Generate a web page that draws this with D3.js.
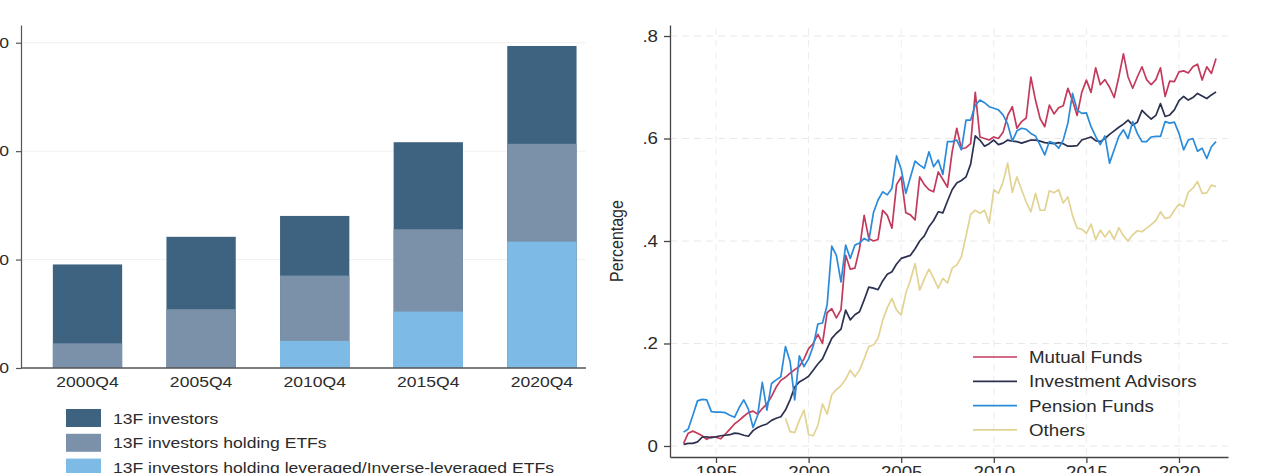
<!DOCTYPE html>
<html>
<head>
<meta charset="utf-8">
<script src="https://cdn.jsdelivr.net/npm/d3@7"></script>
<style>
  body { margin: 0; background: #fff; }
  svg { display: block; }
  text { font-family: "Liberation Sans", Arial, Helvetica, sans-serif; fill: #2b2b2b; }
</style>
</head>
<body>
<svg id="chart" width="1263" height="473"></svg>
<script>
// ---- Left panel: number of 13F investors (nested groups) ----
const barCategories = ["2000Q4", "2005Q4", "2010Q4", "2015Q4", "2020Q4"];
const investors13F = [1910, 2420, 2805, 4165, 5940];
const holdingETFs = [455, 1085, 1705, 2560, 4135];
const holdingLevETFs = [0, 0, 500, 1040, 2330];
const barSeriesNames = [
  "13F investors",
  "13F investors holding ETFs",
  "13F investors holding leveraged/Inverse-leveraged ETFs"
];
const barTicks = [0, 2000, 4000, 6000];

// ---- Right panel: share by institution type, quarterly ----
const lineStart = 1993.25;      // first quarter of the three main series
const othersStart = 1998.75;    // "Others" begins later
const quarterStep = 0.25;
const yearTicks = [1995, 2000, 2005, 2010, 2015, 2020];
const shareTicks = [0, 0.2, 0.4, 0.6, 0.8];
const lineSeriesNames = ["Mutual Funds", "Investment Advisors", "Pension Funds", "Others"];

const mutualFunds = [
  0.005,0.025,0.029,0.025,0.020,0.013,0.018,0.017,0.014,0.023,
  0.033,0.043,0.050,0.058,0.065,0.068,0.062,0.073,0.082,0.097,
  0.115,0.128,0.134,0.142,0.149,0.155,0.170,0.190,0.200,0.218,
  0.200,0.260,0.268,0.250,0.266,0.372,0.345,0.347,0.385,0.450,
  0.405,0.400,0.403,0.460,0.450,0.425,0.510,0.525,0.455,0.451,
  0.441,0.525,0.510,0.500,0.496,0.535,0.520,0.505,0.574,0.620,
  0.580,0.582,0.590,0.690,0.603,0.600,0.597,0.603,0.600,0.612,
  0.645,0.662,0.620,0.633,0.640,0.720,0.675,0.639,0.623,0.665,
  0.648,0.660,0.664,0.698,0.674,0.645,0.690,0.714,0.690,0.738,
  0.705,0.715,0.700,0.680,0.720,0.765,0.720,0.698,0.720,0.740,
  0.715,0.705,0.715,0.738,0.682,0.712,0.711,0.730,0.732,0.728,
  0.740,0.745,0.714,0.740,0.727,0.756
];
const investmentAdvisors = [
  0.003,0.005,0.005,0.008,0.017,0.018,0.016,0.018,0.020,0.021,
  0.022,0.025,0.024,0.021,0.019,0.030,0.036,0.040,0.043,0.050,
  0.054,0.057,0.070,0.090,0.115,0.125,0.130,0.136,0.148,0.160,
  0.170,0.190,0.210,0.220,0.228,0.265,0.246,0.256,0.262,0.285,
  0.310,0.308,0.305,0.322,0.335,0.340,0.355,0.366,0.369,0.372,
  0.385,0.400,0.410,0.428,0.440,0.457,0.455,0.478,0.500,0.513,
  0.518,0.525,0.550,0.605,0.597,0.585,0.590,0.597,0.588,0.591,
  0.597,0.595,0.594,0.591,0.594,0.597,0.597,0.595,0.592,0.591,
  0.590,0.592,0.590,0.585,0.585,0.586,0.597,0.600,0.603,0.596,
  0.594,0.600,0.608,0.615,0.622,0.628,0.636,0.626,0.632,0.655,
  0.646,0.638,0.645,0.668,0.643,0.646,0.656,0.674,0.682,0.675,
  0.680,0.688,0.683,0.678,0.685,0.691
];
const pensionFunds = [
  0.027,0.033,0.060,0.088,0.091,0.090,0.067,0.066,0.066,0.065,
  0.060,0.056,0.075,0.090,0.072,0.036,0.060,0.124,0.070,0.122,
  0.129,0.135,0.194,0.165,0.090,0.176,0.155,0.170,0.195,0.238,
  0.240,0.275,0.390,0.372,0.320,0.392,0.366,0.392,0.396,0.405,
  0.400,0.455,0.480,0.496,0.490,0.503,0.566,0.540,0.493,0.525,
  0.556,0.548,0.542,0.574,0.545,0.558,0.530,0.594,0.594,0.597,
  0.578,0.636,0.636,0.665,0.675,0.670,0.662,0.659,0.656,0.646,
  0.628,0.595,0.615,0.620,0.618,0.610,0.605,0.587,0.568,0.594,
  0.591,0.581,0.597,0.630,0.688,0.656,0.649,0.650,0.623,0.604,
  0.588,0.605,0.552,0.578,0.604,0.617,0.600,0.633,0.610,0.594,
  0.594,0.603,0.604,0.604,0.633,0.630,0.632,0.610,0.578,0.597,
  0.600,0.575,0.581,0.561,0.584,0.594
];
const others = [
  0.054,0.028,0.026,0.050,0.070,0.022,0.020,0.040,0.082,0.062,
  0.100,0.110,0.118,0.130,0.148,0.135,0.148,0.170,0.194,0.197,
  0.210,0.245,0.270,0.288,0.265,0.256,0.298,0.324,0.356,0.304,
  0.326,0.345,0.327,0.308,0.327,0.318,0.347,0.353,0.369,0.410,
  0.452,0.460,0.454,0.460,0.435,0.500,0.493,0.515,0.552,0.495,
  0.525,0.500,0.476,0.457,0.493,0.460,0.460,0.498,0.494,0.500,
  0.474,0.486,0.450,0.425,0.423,0.415,0.433,0.403,0.421,0.408,
  0.420,0.403,0.426,0.410,0.400,0.412,0.420,0.418,0.425,0.432,
  0.440,0.457,0.444,0.446,0.460,0.472,0.467,0.495,0.503,0.516,
  0.493,0.494,0.509,0.506
];

const barColors = ["#3d6381", "#7b91a9", "#7dbbe6"];
const lineColors = ["#c33a5c", "#2c3150", "#2b8bdb", "#e2d393"];

// The rendered text is slightly wider than the font's natural proportions.
const TEXT_STRETCH = 1.17;
function stretchText(sel) {
  sel.each(function () {
    const w = this.getComputedTextLength();
    this.setAttribute("textLength", (w * TEXT_STRETCH).toFixed(2));
    this.setAttribute("lengthAdjust", "spacingAndGlyphs");
  });
}

const svg = d3.select("#chart");

// ================= Left panel =================
const left = svg.append("g");
const barX = d3.scaleBand()
  .domain(barCategories)
  .range([30.7, 598.7])
  .paddingInner(0.39)
  .paddingOuter(0.195);
const barY = d3.scaleLinear().domain([0, 6327]).range([368, 25]);

// horizontal grid
left.append("g").selectAll("line")
  .data(barTicks.filter(d => d > 0))
  .join("line")
  .attr("x1", 21).attr("x2", 586)
  .attr("y1", d => barY(d)).attr("y2", d => barY(d))
  .attr("stroke", "#f0f0f0").attr("stroke-width", 1);

// bars: each group is a subset of the previous one, so draw from zero, largest first
const barGroups = [investors13F, holdingETFs, holdingLevETFs];
barGroups.forEach((vals, k) => {
  left.append("g").selectAll("rect")
    .data(vals.map((v, i) => ({ cat: barCategories[i], v })).filter(d => d.v > 0))
    .join("rect")
    .attr("x", d => barX(d.cat))
    .attr("width", barX.bandwidth())
    .attr("y", d => barY(d.v))
    .attr("height", d => barY(0) - barY(d.v))
    .attr("fill", barColors[k]);
});

// y axis
const barYAxis = left.append("g")
  .attr("transform", "translate(21,0)")
  .call(d3.axisLeft(barY).tickValues(barTicks).tickSize(5).tickSizeOuter(0).tickPadding(7)
    .tickFormat(d3.format("d")));
barYAxis.select(".domain").attr("stroke", "#555").attr("stroke-width", 1.2);
barYAxis.selectAll(".tick line").attr("stroke", "#555").attr("stroke-width", 1.2);
barYAxis.selectAll("text").attr("font-size", 15).attr("fill", "#2b2b2b").call(stretchText);

// x axis baseline and labels
left.append("line")
  .attr("x1", 21).attr("x2", 586)
  .attr("y1", barY(0)).attr("y2", barY(0))
  .attr("stroke", "#555").attr("stroke-width", 1.4);
const barXAxis = left.append("g")
  .attr("transform", `translate(0,${barY(0)})`)
  .call(d3.axisBottom(barX).tickSize(0).tickPadding(8.7));
barXAxis.select(".domain").remove();
barXAxis.selectAll("text").attr("font-size", 15).attr("fill", "#2b2b2b").call(stretchText);

// legend
const barLegend = left.append("g");
barSeriesNames.forEach((name, k) => {
  const cy = 418 + k * 24.8;
  barLegend.append("rect")
    .attr("x", 66).attr("y", cy - 9).attr("width", 35).attr("height", 18)
    .attr("fill", barColors[k]);
  barLegend.append("text")
    .attr("x", 113).attr("y", cy + 5.5)
    .attr("font-size", 15)
    .text(name)
    .call(stretchText);
});

// ================= Right panel =================
const right = svg.append("g");
const lineX = d3.scaleLinear().domain([1992.516, 2022.646]).range([670, 1228]);
const lineY = d3.scaleLinear().domain([-0.0215, 0.8215]).range([457, 25]);

// dashed grid
right.append("g").selectAll("line")
  .data(shareTicks)
  .join("line")
  .attr("x1", 670).attr("x2", 1228)
  .attr("y1", d => lineY(d)).attr("y2", d => lineY(d))
  .attr("stroke", "#e8e8e8").attr("stroke-width", 1).attr("stroke-dasharray", "7,5");
right.append("g").selectAll("line")
  .data(yearTicks)
  .join("line")
  .attr("x1", d => lineX(d)).attr("x2", d => lineX(d))
  .attr("y1", 28).attr("y2", 457)
  .attr("stroke", "#ececec").attr("stroke-width", 1).attr("stroke-dasharray", "7,5");

// series
const lineSeries = [
  { values: mutualFunds, start: lineStart },
  { values: investmentAdvisors, start: lineStart },
  { values: pensionFunds, start: lineStart },
  { values: others, start: othersStart }
];
lineSeries.forEach((s, k) => {
  const gen = d3.line()
    .x((d, i) => lineX(s.start + i * quarterStep))
    .y(d => lineY(d));
  right.append("path")
    .datum(s.values)
    .attr("d", gen)
    .attr("fill", "none")
    .attr("stroke", lineColors[k])
    .attr("stroke-width", 1.7)
    .attr("stroke-linejoin", "round");
});

// axes
const shareFormat = d => d === 0 ? "0" : d3.format(".1f")(d).replace(/^0/, "");
const lineYAxis = right.append("g")
  .attr("transform", "translate(670,0)")
  .call(d3.axisLeft(lineY).tickValues(shareTicks).tickSize(6).tickSizeOuter(0).tickPadding(6)
    .tickFormat(shareFormat));
lineYAxis.select(".domain").attr("stroke", "#444").attr("stroke-width", 1.3);
lineYAxis.selectAll(".tick line").attr("stroke", "#444").attr("stroke-width", 1.3);
lineYAxis.selectAll("text").attr("font-size", 16).attr("fill", "#2b2b2b").call(stretchText);

const lineXAxis = right.append("g")
  .attr("transform", "translate(0,457)")
  .call(d3.axisBottom(lineX).tickValues(yearTicks).tickSize(6).tickSizeOuter(0).tickPadding(3.6)
    .tickFormat(d3.format("d")));
lineXAxis.select(".domain").attr("stroke", "#444").attr("stroke-width", 1.3);
lineXAxis.selectAll(".tick line").attr("stroke", "#444").attr("stroke-width", 1.3);
lineXAxis.selectAll("text").attr("font-size", 16).attr("fill", "#2b2b2b").call(stretchText);

// axis title
right.append("text")
  .attr("transform", `translate(623,241) scale(${TEXT_STRETCH},1) rotate(-90)`)
  .attr("text-anchor", "middle")
  .attr("font-size", 16)
  .text("Percentage");

// legend
const lineLegend = right.append("g");
lineSeriesNames.forEach((name, k) => {
  const cy = 357 + k * 24.3;
  lineLegend.append("line")
    .attr("x1", 973).attr("x2", 1017)
    .attr("y1", cy).attr("y2", cy)
    .attr("stroke", lineColors[k]).attr("stroke-width", 1.7);
  lineLegend.append("text")
    .attr("x", 1029).attr("y", cy + 6)
    .attr("font-size", 16)
    .text(name)
    .call(stretchText);
});
</script>
</body>
</html>
